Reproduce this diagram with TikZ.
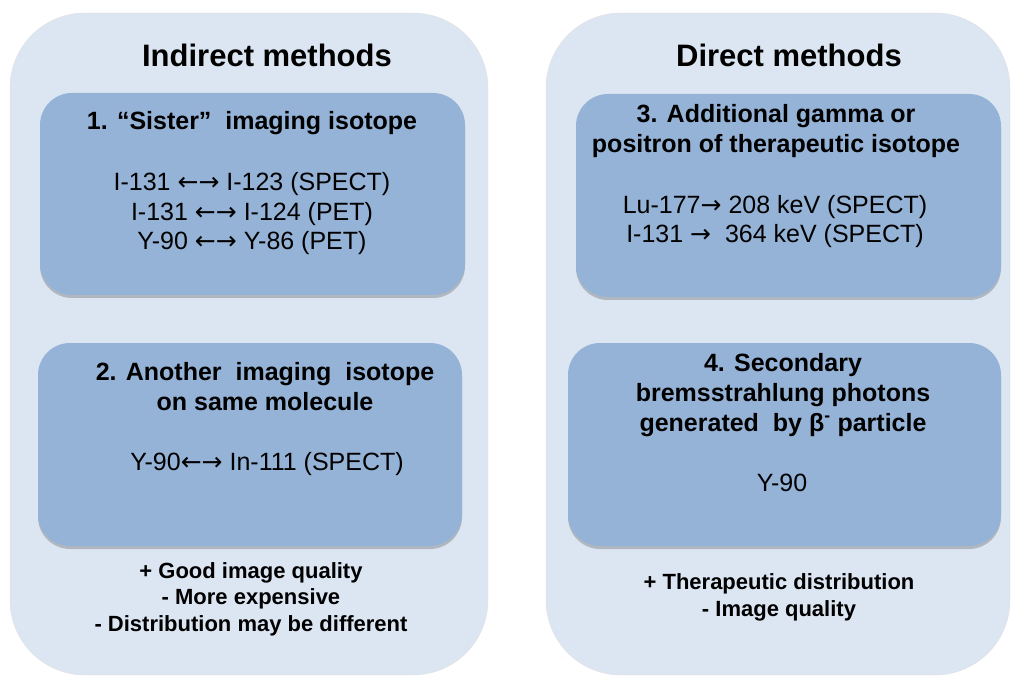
\documentclass[tikz,border=0pt]{standalone}
\usepackage{fontspec}
\setmainfont{Liberation Sans}
\newfontfamily\arrowfont{DejaVu Sans}
\usetikzlibrary{shadows}

\definecolor{panelblue}{HTML}{DCE6F2}
\definecolor{boxblue}{HTML}{95B3D7}

\newcommand{\lrarr}{{\arrowfont ←→}}
\newcommand{\rarr}{{\arrowfont →}}

\tikzset{
  panel/.style={fill=panelblue, draw=black!12, rounded corners=75pt, inner sep=0pt},
  methodbox/.style={fill=boxblue, rounded corners=32pt, inner sep=0pt,
    drop shadow={shadow xshift=0pt, shadow yshift=-3pt, opacity=0.3, fill=black!70}},
  heading/.style={font=\fontsize{31}{36}\selectfont\bfseries, anchor=base},
  boxtitle/.style={font=\fontsize{25}{30}\selectfont\bfseries, align=center, anchor=base},
  isotopes/.style={font=\fontsize{25}{29.5}\selectfont, align=center, anchor=base},
  prosandcons/.style={font=\fontsize{22}{26.5}\selectfont\bfseries, align=center, anchor=base}
}

\begin{document}
\begin{tikzpicture}[x=1pt, y=-1pt]
  \useasboundingbox (0,0) rectangle (1012,676);

  % the two columns
  \node[panel, minimum width=478pt, minimum height=662pt] (indirect) at (249,344) {};
  \node[panel, minimum width=464pt, minimum height=662pt] (direct) at (778,344) {};

  % method boxes
  \node[methodbox, minimum width=425pt, minimum height=202pt] (sister) at (252.5,194) {};
  \node[methodbox, minimum width=424pt, minimum height=203pt] (another) at (250,444.5) {};
  \node[methodbox, minimum width=425pt, minimum height=203pt] (gamma) at (788.5,195.5) {};
  \node[methodbox, minimum width=433pt, minimum height=203pt] (brems) at (784.5,444.5) {};

  % indirect side (base = last line)
  \node[heading] (indirecttitle) at (267,67) {Indirect methods};
  \node[boxtitle] (sistertitle) at (252,130) {1. “Sister”\ \ imaging isotope};
  \node[isotopes] (sisterlist) at (252,250) {I-131 \lrarr\ I-123 (SPECT)\\ I-131 \lrarr\ I-124 (PET)\\ Y-90 \lrarr\ Y-86 (PET)};
  \node[boxtitle] (anothertitle) at (265,410) {2. Another\ \ imaging\ \ isotope\\ on same molecule};
  \node[isotopes] (anotherlist) at (267,470) {Y-90\lrarr\ In-111 (SPECT)};
  \node[prosandcons] (indirectnotes) at (251,631) {+ Good image quality\\ - More expensive\\ - Distribution may be different};

  % direct side
  \node[heading] (directtitle) at (789,67) {Direct methods};
  \node[boxtitle] (gammatitle) at (776,153) {3. Additional gamma or\\ positron of therapeutic isotope};
  \node[isotopes] (gammalist) at (775,243) {Lu-177\rarr\ 208 keV (SPECT)\\ I-131 \rarr\ \ 364 keV (SPECT)};
  \node[boxtitle] (bremstitle) at (783,431) {4. Secondary\\ bremsstrahlung photons\\ generated\ \ by β\textsuperscript{-} particle};
  \node[isotopes] (bremslist) at (782,491) {Y-90};
  \node[prosandcons] (directnotes) at (779,616) {+ Therapeutic distribution\\ - Image quality};
\end{tikzpicture}
\end{document}
